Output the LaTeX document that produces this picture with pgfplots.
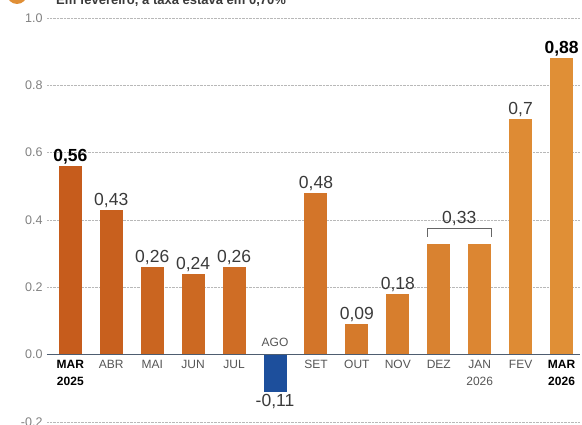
\documentclass[border=0pt]{standalone}
\usepackage{pgfplots}
\pgfplotsset{compat=1.18}
\usepackage{fontspec}
\setmainfont{Liberation Sans}
\definecolor{oA}{HTML}{C65C1C}
\definecolor{oB}{HTML}{E08F36}
\definecolor{blueB}{HTML}{1D4F9C}
\definecolor{zline}{HTML}{4E5D70}
\definecolor{tickgray}{HTML}{555555}
\definecolor{ytickgray}{HTML}{808080}
\definecolor{lblgray}{HTML}{3A3A3A}
\colorlet{c0}{oB!0!oA}
\colorlet{c1}{oB!8!oA}
\colorlet{c2}{oB!17!oA}
\colorlet{c3}{oB!25!oA}
\colorlet{c4}{oB!33!oA}
\colorlet{c6}{oB!50!oA}
\colorlet{c7}{oB!58!oA}
\colorlet{c8}{oB!67!oA}
\colorlet{c9}{oB!75!oA}
\colorlet{c10}{oB!83!oA}
\colorlet{c11}{oB!92!oA}
\colorlet{c12}{oB!100!oA}
\begin{document}
\begin{tikzpicture}[x=1pt,y=1pt]
\useasboundingbox (0,0) rectangle (582,425);
\clip (0,0) rectangle (582,425);
\fill[oB] (17,431) circle (10);
\node[anchor=base west, inner sep=0, font=\fontsize{13}{15}\selectfont\bfseries, text=lblgray] at (56,420) {Em fevereiro, a taxa estava em 0,70\%};
\begin{axis}[
  at={(47pt,3pt)}, anchor=south west,
  scale only axis, width=533pt, height=404pt,
  xmin=-0.57, xmax=12.45, ymin=-0.2, ymax=1.0,
  axis x line*=middle, axis y line*=left,
  axis line style={draw=none},
  major tick length=0pt,
  ytick={-0.2,0,0.2,0.4,0.6,0.8,1.0},
  yticklabels={-0.2,0.0,0.2,0.4,0.6,0.8,1.0},
  yticklabel style={font=\fontsize{12.5}{14}\selectfont, text=ytickgray, xshift=-1pt},
  ymajorgrids,
  grid style={densely dotted, color=black!28, line width=0.8pt},
  xtick={0,1,2,3,4,6,7,8,9,10,11,12},
  xticklabels={{\textcolor{black}{\textbf{MAR}}\\\textcolor{black}{\textbf{2025}}},ABR,MAI,JUN,JUL,SET,OUT,NOV,DEZ,{JAN\\2026},FEV,{\textcolor{black}{\textbf{MAR}}\\\textcolor{black}{\textbf{2026}}}},
  xticklabel style={align=center, anchor=north, yshift=-2pt, font=\fontsize{12}{17}\selectfont, text=tickgray},
  ybar, bar width=23pt, bar shift=0pt,
  point meta=explicit symbolic,
  nodes near coords,
  every node near coord/.append style={font=\fontsize{17.5}{19}\selectfont, text=lblgray, inner sep=2pt},
  clip=false,
]
\addplot[fill=c0, draw=none, every node near coord/.append style={font=\fontsize{17.5}{19}\selectfont\bfseries, text=black}] coordinates {(0,0.56)[0,56]};
\addplot[fill=c1, draw=none] coordinates {(1,0.43)[0,43]};
\addplot[fill=c2, draw=none] coordinates {(2,0.26)[0,26]};
\addplot[fill=c3, draw=none] coordinates {(3,0.24)[0,24]};
\addplot[fill=c4, draw=none] coordinates {(4,0.26)[0,26]};
\addplot[fill=blueB, draw=none, every node near coord/.append style={anchor=north}] coordinates {(5,-0.11)[-0,11]};
\addplot[fill=c6, draw=none] coordinates {(6,0.48)[0,48]};
\addplot[fill=c7, draw=none] coordinates {(7,0.09)[0,09]};
\addplot[fill=c8, draw=none] coordinates {(8,0.18)[0,18]};
\addplot[fill=c9, draw=none, nodes near coords={}] coordinates {(9,0.33)[]};
\addplot[fill=c10, draw=none, nodes near coords={}] coordinates {(10,0.33)[]};
\addplot[fill=c11, draw=none] coordinates {(11,0.70)[0,7]};
\addplot[fill=c12, draw=none, every node near coord/.append style={font=\fontsize{17.5}{19}\selectfont\bfseries, text=black}] coordinates {(12,0.88)[0,88]};
\draw[zline, line width=1.3pt] (axis cs:-0.57,0) -- (axis cs:12.45,0);
\draw[black!60, line width=1pt] (axis cs:8.72,0.35) -- (axis cs:8.72,0.375) -- (axis cs:10.28,0.375) -- (axis cs:10.28,0.35);
\node[above, font=\fontsize{17.5}{19}\selectfont, text=lblgray, inner sep=2pt] at (axis cs:9.5,0.375) {0,33};
\node[font=\fontsize{12}{13}\selectfont, text=tickgray] at (axis cs:5,0.036) {AGO};
\end{axis}
\end{tikzpicture}
\end{document}
